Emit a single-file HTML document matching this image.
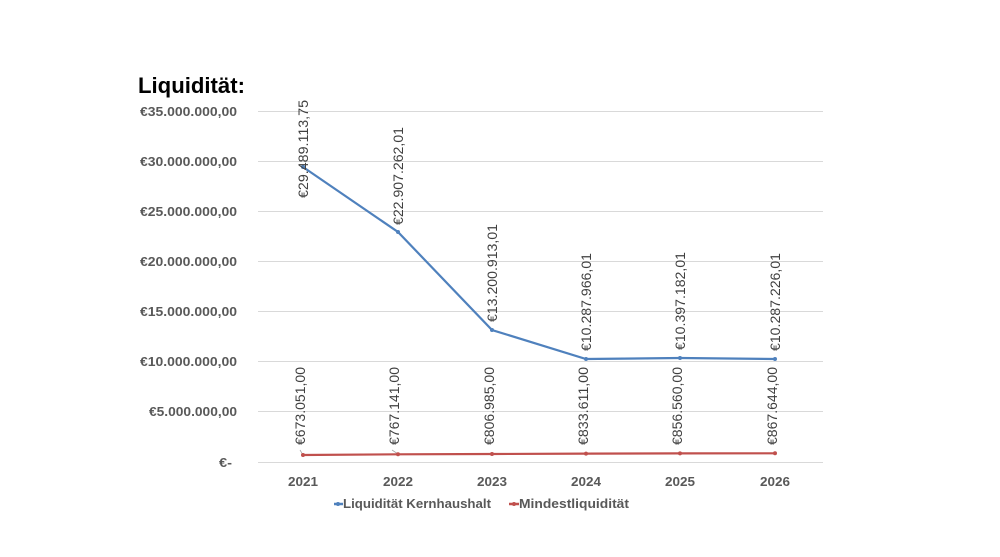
<!DOCTYPE html>
<html><head><meta charset="utf-8"><style>
html,body{margin:0;padding:0;background:#fff;}
svg{display:block;font-family:"Liberation Sans",sans-serif;}
</style></head><body>
<svg width="1000" height="557" viewBox="0 0 1000 557" xmlns="http://www.w3.org/2000/svg">
<rect width="1000" height="557" fill="#fff"/>
<text x="138" y="93" font-size="22" font-weight="bold" fill="#000" textLength="107" lengthAdjust="spacingAndGlyphs">Liquidität:</text>
<g stroke="#d9d9d9" stroke-width="1">
<line x1="258" y1="111.5" x2="823" y2="111.5"/>
<line x1="258" y1="161.5" x2="823" y2="161.5"/>
<line x1="258" y1="211.5" x2="823" y2="211.5"/>
<line x1="258" y1="261.5" x2="823" y2="261.5"/>
<line x1="258" y1="311.5" x2="823" y2="311.5"/>
<line x1="258" y1="361.5" x2="823" y2="361.5"/>
<line x1="258" y1="411.5" x2="823" y2="411.5"/>
<line x1="258" y1="462.5" x2="823" y2="462.5"/>
</g>
<g font-size="13" font-weight="bold" fill="#595959" lengthAdjust="spacingAndGlyphs">
<text x="140" y="116" textLength="97" lengthAdjust="spacingAndGlyphs">€35.000.000,00</text>
<text x="140" y="166" textLength="97" lengthAdjust="spacingAndGlyphs">€30.000.000,00</text>
<text x="140" y="216" textLength="97" lengthAdjust="spacingAndGlyphs">€25.000.000,00</text>
<text x="140" y="266" textLength="97" lengthAdjust="spacingAndGlyphs">€20.000.000,00</text>
<text x="140" y="316" textLength="97" lengthAdjust="spacingAndGlyphs">€15.000.000,00</text>
<text x="140" y="366" textLength="97" lengthAdjust="spacingAndGlyphs">€10.000.000,00</text>
<text x="149" y="416" textLength="88" lengthAdjust="spacingAndGlyphs">€5.000.000,00</text>
<text x="219" y="467" textLength="13" lengthAdjust="spacingAndGlyphs">€-</text>
</g>
<g font-size="13" font-weight="bold" fill="#595959">
<text x="288" y="486" textLength="30" lengthAdjust="spacingAndGlyphs">2021</text>
<text x="383" y="486" textLength="30" lengthAdjust="spacingAndGlyphs">2022</text>
<text x="477" y="486" textLength="30" lengthAdjust="spacingAndGlyphs">2023</text>
<text x="571" y="486" textLength="30" lengthAdjust="spacingAndGlyphs">2024</text>
<text x="665" y="486" textLength="30" lengthAdjust="spacingAndGlyphs">2025</text>
<text x="760" y="486" textLength="30" lengthAdjust="spacingAndGlyphs">2026</text>
</g>
<g stroke="#a6a6a6" stroke-width="0.8"><line x1="300" y1="450" x2="303" y2="455"/><line x1="392" y1="450" x2="398" y2="454"/></g>
<polyline fill="none" stroke="#4f81bd" stroke-width="2.2" points="303,167 398,232 492,330 586,359 680,358 775,359"/>
<g fill="#4f81bd"><circle cx="303" cy="167" r="2"/><circle cx="398" cy="232" r="2"/><circle cx="492" cy="330" r="2"/><circle cx="586" cy="359" r="2"/><circle cx="680" cy="358" r="2"/><circle cx="775" cy="359" r="2"/></g>
<polyline fill="none" stroke="#c0504d" stroke-width="2.2" points="303,455 398,454.3 492,454 586,453.6 680,453.4 775,453.3"/>
<g fill="#c0504d"><circle cx="303" cy="455" r="2"/><circle cx="398" cy="454.3" r="2"/><circle cx="492" cy="454" r="2"/><circle cx="586" cy="453.6" r="2"/><circle cx="680" cy="453.4" r="2"/><circle cx="775" cy="453.3" r="2"/></g>
<g font-size="13.5" fill="#404040">
<text transform="translate(308,198) rotate(-90)" textLength="98" lengthAdjust="spacingAndGlyphs">€29.489.113,75</text>
<text transform="translate(403,225) rotate(-90)" textLength="98" lengthAdjust="spacingAndGlyphs">€22.907.262,01</text>
<text transform="translate(497,322) rotate(-90)" textLength="98" lengthAdjust="spacingAndGlyphs">€13.200.913,01</text>
<text transform="translate(591,351) rotate(-90)" textLength="98" lengthAdjust="spacingAndGlyphs">€10.287.966,01</text>
<text transform="translate(685,350) rotate(-90)" textLength="98" lengthAdjust="spacingAndGlyphs">€10.397.182,01</text>
<text transform="translate(780,351) rotate(-90)" textLength="98" lengthAdjust="spacingAndGlyphs">€10.287.226,01</text>
<text transform="translate(305,445) rotate(-90)" textLength="78" lengthAdjust="spacingAndGlyphs">€673.051,00</text>
<text transform="translate(399,445) rotate(-90)" textLength="78" lengthAdjust="spacingAndGlyphs">€767.141,00</text>
<text transform="translate(494,445) rotate(-90)" textLength="78" lengthAdjust="spacingAndGlyphs">€806.985,00</text>
<text transform="translate(588,445) rotate(-90)" textLength="78" lengthAdjust="spacingAndGlyphs">€833.611,00</text>
<text transform="translate(682,445) rotate(-90)" textLength="78" lengthAdjust="spacingAndGlyphs">€856.560,00</text>
<text transform="translate(777,445) rotate(-90)" textLength="78" lengthAdjust="spacingAndGlyphs">€867.644,00</text>
</g>
<g font-size="13" font-weight="bold" fill="#595959">
<line x1="334" y1="504" x2="343" y2="504" stroke="#4f81bd" stroke-width="2.5"/>
<circle cx="338" cy="504" r="2" fill="#4f81bd"/>
<text x="343" y="508" textLength="148" lengthAdjust="spacingAndGlyphs">Liquidität Kernhaushalt</text>
<line x1="509" y1="504" x2="519" y2="504" stroke="#c0504d" stroke-width="2.5"/>
<circle cx="514" cy="504" r="2" fill="#c0504d"/>
<text x="519" y="508" textLength="110" lengthAdjust="spacingAndGlyphs">Mindestliquidität</text>
</g>
</svg>
</body></html>
